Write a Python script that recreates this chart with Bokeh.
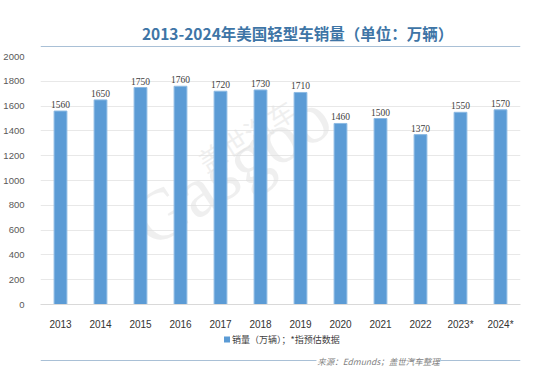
from bokeh.plotting import figure
from bokeh.layouts import column
from bokeh.models import ColumnDataSource, Range1d, Label, LabelSet, FixedTicker
from bokeh.core.properties import value
from bokeh.embed import file_html
from bokeh.resources import INLINE
import math

years = ["2013", "2014", "2015", "2016", "2017", "2018", "2019", "2020", "2021", "2022", "2023*", "2024*"]
sales = [1560, 1650, 1750, 1760, 1720, 1730, 1710, 1460, 1500, 1370, 1550, 1570]
y_ticks = [0, 200, 400, 600, 800, 1000, 1200, 1400, 1600, 1800, 2000]
title_text = "2013-2024年美国轻型车销量（单位：万辆）"
legend_text = "销量（万辆）；*指预估数据"
source_text = "来源：Edmunds；盖世汽车整理"

FONT = "Noto Sans CJK SC"
W = 534
HH, MH, FH = 50, 282, 34
RULE = "#A9C0D6"


def blank(h):
    f = figure(width=W, height=h, x_range=Range1d(0, W), y_range=Range1d(h, 0),
               output_backend="svg", toolbar_location=None,
               min_border=0, min_border_left=0, min_border_right=0,
               min_border_top=0, min_border_bottom=0)
    f.axis.visible = False
    f.grid.visible = False
    f.outline_line_color = None
    f.background_fill_color = "white"
    f.border_fill_color = "white"
    return f


# header
hdr = blank(HH)
hdr.text(x=[286], y=[32], text=[title_text], text_align="center", text_baseline="middle",
         text_font=value(FONT), text_font_style="bold", text_font_size="15.5px",
         text_color="#3E75A6")
hdr.segment(x0=[0], y0=[46], x1=[W], y1=[46], line_color=RULE, line_width=1.2)

# main chart
src = ColumnDataSource(dict(year=years, sales=sales, lab=[str(v) for v in sales]))
p = figure(x_range=years, y_range=Range1d(0, 2000), width=W, height=MH,
           output_backend="svg", toolbar_location=None,
           min_border_left=31, min_border_right=14, min_border_top=6, min_border_bottom=24)
p.background_fill_color = "white"
p.border_fill_color = "white"
p.outline_line_color = None

# watermark (behind bars)
p.add_layout(Label(x=120, y=42, x_units="screen", y_units="screen", text="Gasgoo",
                   angle=math.radians(33), text_font_size="72px", text_color="#E0E0E0",
                   text_alpha=0.5, text_font="Liberation Serif", level="underlay"))
p.add_layout(Label(x=170, y=124, x_units="screen", y_units="screen", text="盖世汽车",
                   angle=math.radians(32), text_font_size="27px", text_color="#E0E0E0",
                   text_alpha=0.5, text_font=FONT, level="underlay"))

p.vbar(x="year", top="sales", width=0.32, source=src,
       fill_color="#5B9BD5", line_color="#8DBAE3", line_width=1)

p.add_layout(LabelSet(x="year", y="sales", text="lab", source=src, text_align="center",
                      text_baseline="bottom", y_offset=3, text_font_size="9.5px",
                      text_color="#404040", text_font="Liberation Sans"))

p.yaxis.ticker = FixedTicker(ticks=y_ticks)
p.yaxis.axis_line_color = None
p.yaxis.major_tick_line_color = None
p.yaxis.minor_tick_line_color = None
p.yaxis.major_label_text_font_size = "9.5px"
p.yaxis.major_label_text_color = "#595959"
p.yaxis.major_label_text_font = "Liberation Sans"
p.yaxis.major_label_standoff = 10

p.xaxis.axis_line_color = "#D9D9D9"
p.xaxis.major_tick_line_color = None
p.xaxis.minor_tick_line_color = None
p.xaxis.major_label_text_font_size = "10px"
p.xaxis.major_label_text_color = "#333333"
p.xaxis.major_label_text_font = "Liberation Sans"
p.xaxis.major_label_standoff = 8

p.xgrid.grid_line_color = None
p.ygrid.grid_line_color = "#E8E8E8"

# footer
ftr = blank(FH)
ftr.scatter(x=[207.5], y=[7], marker="square", size=6, fill_color="#5B9BD5", line_color=None)
ftr.text(x=[213], y=[7], text=[legend_text], text_align="left", text_baseline="middle",
         text_font=value(FONT), text_font_size="9px", text_color="#404040")
ftr.segment(x0=[0, 445], y0=[28, 28], x1=[307, W], y1=[28, 28],
            line_color=RULE, line_width=1.2)
ftr.text(x=[376], y=[28], text=[source_text], text_align="center", text_baseline="middle",
         text_font=value(FONT), text_font_style="italic", text_font_size="8.5px",
         text_color="#7F7F7F")

layout = column(hdr, p, ftr, spacing=0)
open("out.html", "w").write(file_html(layout, INLINE))
